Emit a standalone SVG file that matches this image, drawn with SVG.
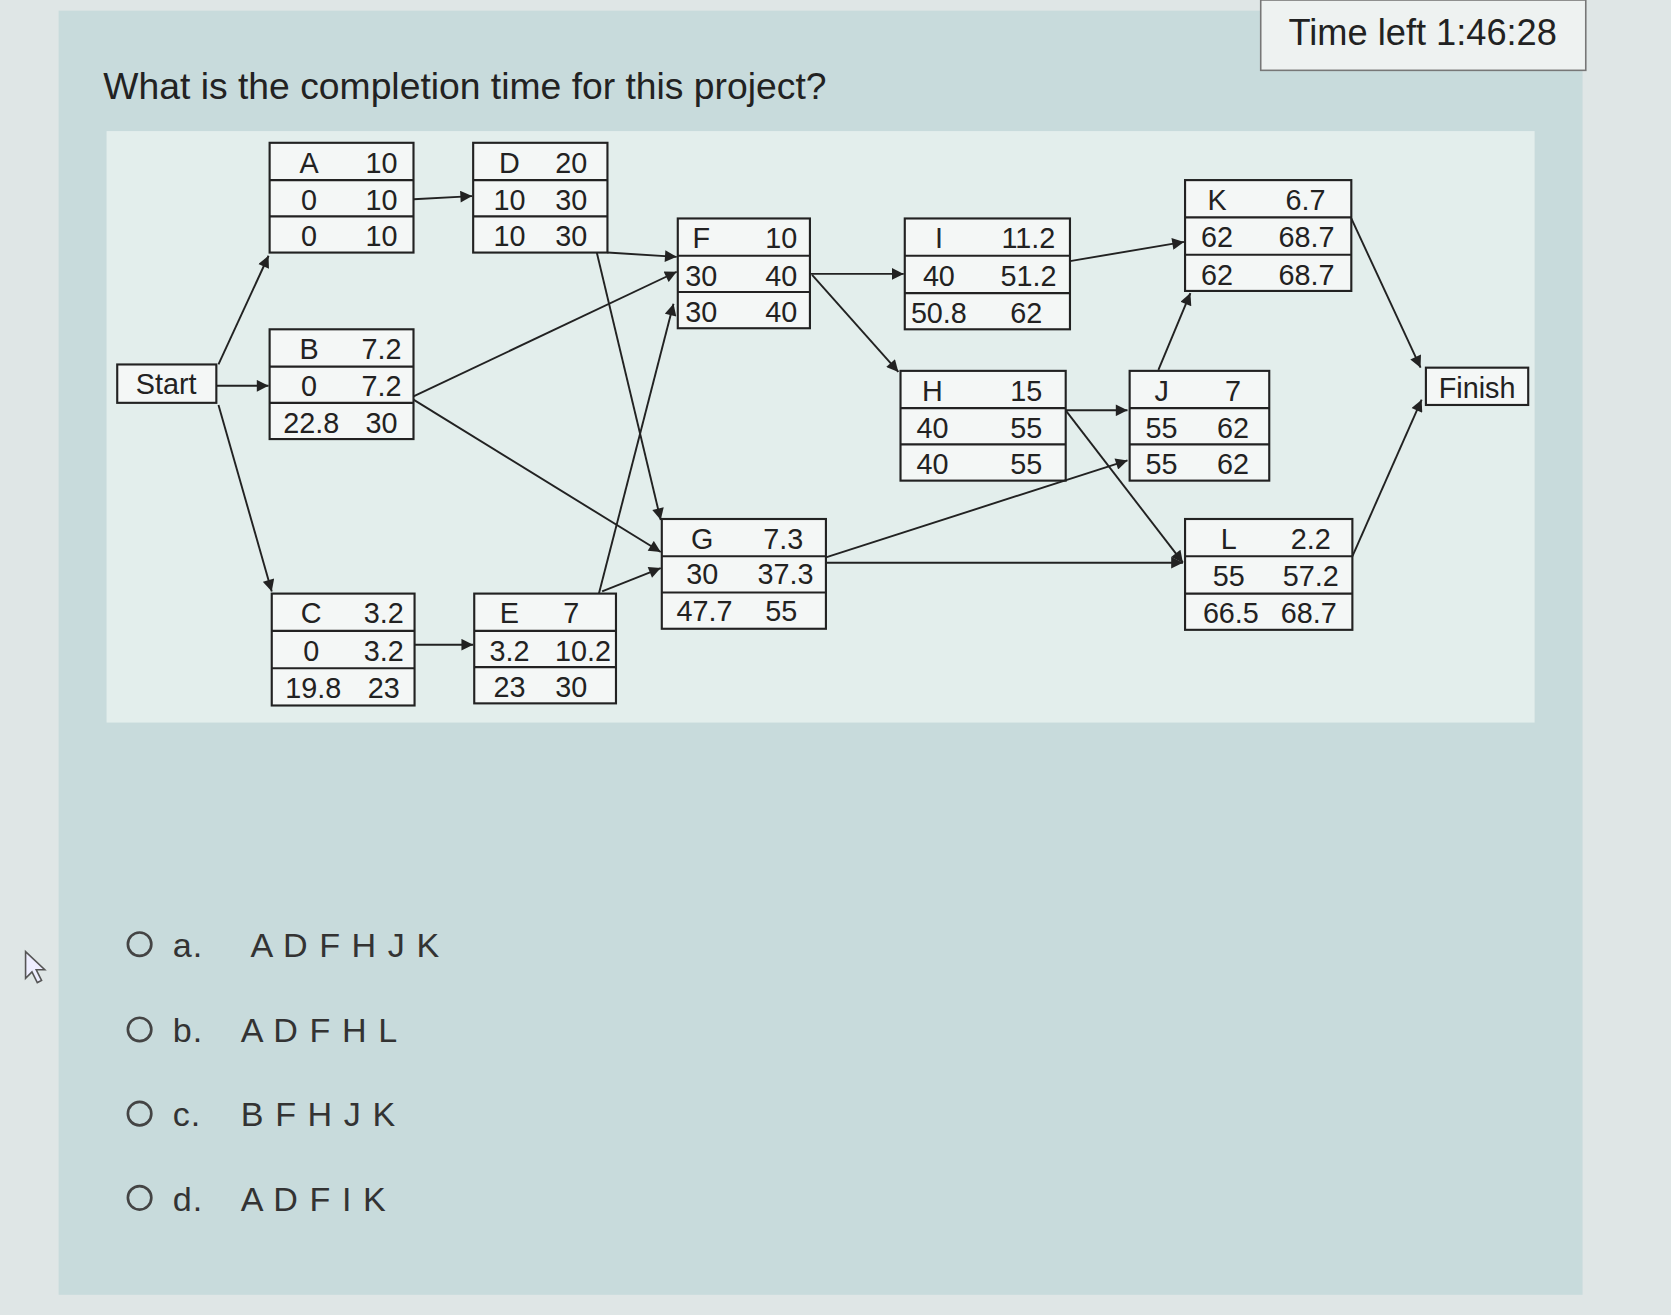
<svg xmlns="http://www.w3.org/2000/svg" width="1671" height="1315" viewBox="0 0 1671 1315">
<defs>
<marker id="ah" viewBox="0 0 10 10" refX="10" refY="5" markerWidth="13" markerHeight="11" markerUnits="userSpaceOnUse" orient="auto"><path d="M0,0 L10,5 L0,10 z" fill="#222"/></marker>
<style>
text{font-family:"Liberation Sans",Arial,sans-serif;fill:#222}
.n rect{fill:#f4f7f6;stroke:#222;stroke-width:2}
.n line{stroke:#222;stroke-width:2}
.n text{font-size:27px;text-anchor:middle}
#edges line{stroke:#222;stroke-width:1.8;marker-end:url(#ah)}
.opt{font-size:32px;letter-spacing:1px;fill:#333}
.rad{fill:none;stroke:#444;stroke-width:2.5}
</style>
</defs>
<g transform="scale(1.0657)">
<rect width="1568" height="1234" fill="#dfe6e6"/>
<rect x="55" y="10" width="1430" height="1205" fill="#c8dbdc"/>
<rect x="100" y="123" width="1340" height="555" fill="#e3eeec"/>
<rect x="1183" y="0" width="305" height="66" fill="#eef2f1" stroke="#777" stroke-width="1.5"/>
<text x="1335" y="42" font-size="34" text-anchor="middle">Time left 1:46:28</text>
<text x="97" y="93" font-size="35">What is the completion time for this project?</text>

<g id="start" class="n"><rect x="110" y="342" width="93" height="36"/><text x="156" y="370">Start</text></g>
<g id="finish" class="n"><rect x="1338" y="345" width="96" height="35"/><text x="1386" y="373">Finish</text></g>

<g id="A" class="n"><rect x="253" y="134" width="135" height="103"/><line x1="253" y1="169" x2="388" y2="169"/><line x1="253" y1="203" x2="388" y2="203"/>
<text x="290" y="162">A</text><text x="358" y="162">10</text><text x="290" y="197">0</text><text x="358" y="197">10</text><text x="290" y="231">0</text><text x="358" y="231">10</text></g>
<g id="D" class="n"><rect x="444" y="134" width="126" height="103"/><line x1="444" y1="169" x2="570" y2="169"/><line x1="444" y1="203" x2="570" y2="203"/>
<text x="478" y="162">D</text><text x="536" y="162">20</text><text x="478" y="197">10</text><text x="536" y="197">30</text><text x="478" y="231">10</text><text x="536" y="231">30</text></g>
<g id="F" class="n"><rect x="636" y="205" width="124" height="103"/><line x1="636" y1="240" x2="760" y2="240"/><line x1="636" y1="274" x2="760" y2="274"/>
<text x="658" y="233">F</text><text x="733" y="233">10</text><text x="658" y="268">30</text><text x="733" y="268">40</text><text x="658" y="302">30</text><text x="733" y="302">40</text></g>
<g id="I" class="n"><rect x="849" y="205" width="155" height="104"/><line x1="849" y1="240" x2="1004" y2="240"/><line x1="849" y1="275" x2="1004" y2="275"/>
<text x="881" y="233">I</text><text x="965" y="233">11.2</text><text x="881" y="268">40</text><text x="965" y="268">51.2</text><text x="881" y="303">50.8</text><text x="963" y="303">62</text></g>
<g id="K" class="n"><rect x="1112" y="169" width="156" height="104"/><line x1="1112" y1="204" x2="1268" y2="204"/><line x1="1112" y1="239" x2="1268" y2="239"/>
<text x="1142" y="197">K</text><text x="1225" y="197">6.7</text><text x="1142" y="232">62</text><text x="1226" y="232">68.7</text><text x="1142" y="267">62</text><text x="1226" y="267">68.7</text></g>
<g id="B" class="n"><rect x="253" y="309" width="135" height="103"/><line x1="253" y1="344" x2="388" y2="344"/><line x1="253" y1="378" x2="388" y2="378"/>
<text x="290" y="337">B</text><text x="358" y="337">7.2</text><text x="290" y="372">0</text><text x="358" y="372">7.2</text><text x="292" y="406">22.8</text><text x="358" y="406">30</text></g>
<g id="H" class="n"><rect x="845" y="348" width="155" height="103"/><line x1="845" y1="383" x2="1000" y2="383"/><line x1="845" y1="417" x2="1000" y2="417"/>
<text x="875" y="376">H</text><text x="963" y="376">15</text><text x="875" y="411">40</text><text x="963" y="411">55</text><text x="875" y="445">40</text><text x="963" y="445">55</text></g>
<g id="J" class="n"><rect x="1060" y="348" width="131" height="103"/><line x1="1060" y1="383" x2="1191" y2="383"/><line x1="1060" y1="417" x2="1191" y2="417"/>
<text x="1090" y="376">J</text><text x="1157" y="376">7</text><text x="1090" y="411">55</text><text x="1157" y="411">62</text><text x="1090" y="445">55</text><text x="1157" y="445">62</text></g>
<g id="G" class="n"><rect x="621" y="487" width="154" height="103"/><line x1="621" y1="522" x2="775" y2="522"/><line x1="621" y1="556" x2="775" y2="556"/>
<text x="659" y="515">G</text><text x="735" y="515">7.3</text><text x="659" y="548">30</text><text x="737" y="548">37.3</text><text x="661" y="583">47.7</text><text x="733" y="583">55</text></g>
<g id="L" class="n"><rect x="1112" y="487" width="157" height="104"/><line x1="1112" y1="522" x2="1269" y2="522"/><line x1="1112" y1="557" x2="1269" y2="557"/>
<text x="1153" y="515">L</text><text x="1230" y="515">2.2</text><text x="1153" y="550">55</text><text x="1230" y="550">57.2</text><text x="1155" y="585">66.5</text><text x="1228" y="585">68.7</text></g>
<g id="C" class="n"><rect x="255" y="557" width="134" height="105"/><line x1="255" y1="592" x2="389" y2="592"/><line x1="255" y1="627" x2="389" y2="627"/>
<text x="292" y="585">C</text><text x="360" y="585">3.2</text><text x="292" y="620">0</text><text x="360" y="620">3.2</text><text x="294" y="655">19.8</text><text x="360" y="655">23</text></g>
<g id="E" class="n"><rect x="445" y="557" width="133" height="103"/><line x1="445" y1="592" x2="578" y2="592"/><line x1="445" y1="626" x2="578" y2="626"/>
<text x="478" y="585">E</text><text x="536" y="585">7</text><text x="478" y="620">3.2</text><text x="547" y="620">10.2</text><text x="478" y="654">23</text><text x="536" y="654">30</text></g>

<g id="edges">
<line x1="205" y1="342" x2="252" y2="240"/>
<line x1="203" y1="362" x2="252" y2="362"/>
<line x1="205" y1="380" x2="255" y2="555"/>
<line x1="388" y1="187" x2="443" y2="184"/>
<line x1="570" y1="237" x2="635" y2="241"/>
<line x1="560" y1="237" x2="620" y2="488"/>
<line x1="388" y1="372" x2="635" y2="255"/>
<line x1="388" y1="375" x2="620" y2="518"/>
<line x1="389" y1="605" x2="444" y2="605"/>
<line x1="562" y1="557" x2="632" y2="285"/>
<line x1="565" y1="555" x2="620" y2="533"/>
<line x1="760" y1="257" x2="848" y2="257"/>
<line x1="762" y1="258" x2="843" y2="349"/>
<line x1="1004" y1="245" x2="1111" y2="227"/>
<line x1="1000" y1="385" x2="1058" y2="385"/>
<line x1="1000" y1="385" x2="1110" y2="528"/>
<line x1="775" y1="523" x2="1058" y2="432"/>
<line x1="775" y1="528" x2="1110" y2="528"/>
<line x1="1087" y1="347" x2="1117" y2="275"/>
<line x1="1268" y1="205" x2="1333" y2="345"/>
<line x1="1269" y1="522" x2="1334" y2="375"/>
</g>

<path d="M24,893 L24,918 L30,912 L35,922 L39,920 L34,910 L42,910 Z" fill="#eef" stroke="#555" stroke-width="1.5"/>
<circle class="rad" cx="131" cy="886" r="11"/><text class="opt" x="162" y="898">a.</text><text class="opt" x="235" y="898">A D F H J K</text>
<circle class="rad" cx="131" cy="966" r="11"/><text class="opt" x="162" y="978">b.</text><text class="opt" x="226" y="978">A D F H L</text>
<circle class="rad" cx="131" cy="1045" r="11"/><text class="opt" x="162" y="1057">c.</text><text class="opt" x="226" y="1057">B F H J K</text>
<circle class="rad" cx="131" cy="1124" r="11"/><text class="opt" x="162" y="1136">d.</text><text class="opt" x="226" y="1136">A D F I K</text>
</g>
</svg>
